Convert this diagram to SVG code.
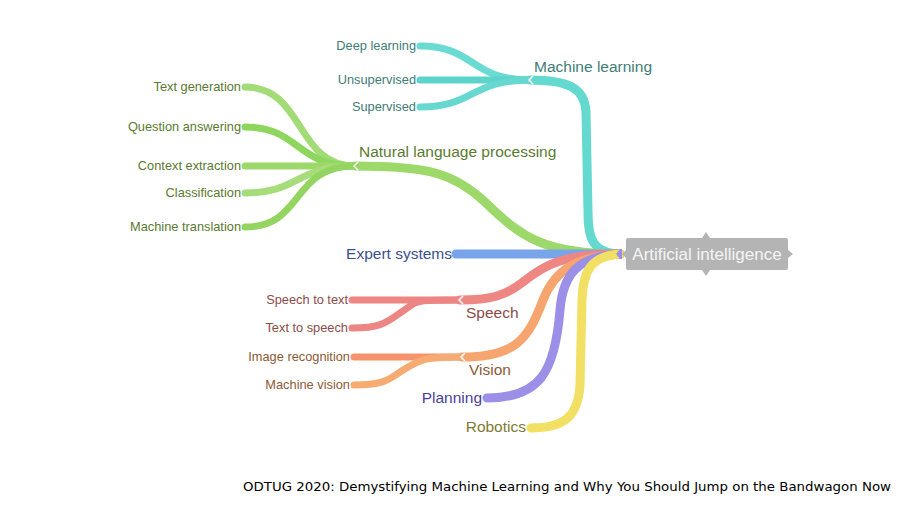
<svg xmlns="http://www.w3.org/2000/svg" width="901" height="505" viewBox="0 0 901 505">
<style>
.b{fill:none;stroke-linecap:round;stroke-linejoin:round}
.m{stroke-width:9}
.c{stroke-width:7}
.t{font-family:"Liberation Sans",Arial,sans-serif}
.lf{font-size:12.8px}
.mn{font-size:15.5px}
.r{text-anchor:end}
.notch{fill:none;stroke:#fff;stroke-width:1.5}
</style>
<rect width="901" height="505" fill="#fff"/>
<g id="connectors">
  <path class="b m" stroke="#64d9cf" d="M620,254 C592,253 588,238 588,212 L586,112 C585,88 568,80 530,80"/>
  <path class="b c" stroke="#6adbd3" d="M530,80 C470,80 475,46 420,46"/>
  <path class="b c" stroke="#5dd3cc" d="M530,80 L420,80"/>
  <path class="b c" stroke="#66d8d0" d="M530,80 C470,80 475,107 420,107"/>
  <path class="b m" stroke="#9dd96a" d="M620,254 C545,254 522,238 485,202 C455,174 430,166 355,166"/>
  <path class="b c" stroke="#a3db76" d="M355,166 C295,166 305,87 245,87"/>
  <path class="b c" stroke="#8fd65e" d="M355,166 C295,166 300,127 245,127"/>
  <path class="b c" stroke="#9cd86a" d="M355,166 L245,166"/>
  <path class="b c" stroke="#a6dc7a" d="M355,166 C295,166 300,193 245,193"/>
  <path class="b c" stroke="#94d562" d="M355,166 C290,166 305,227 245,227"/>
  <path class="b m" stroke="#78a4ea" d="M620,254 L456,254"/>
  <path class="b m" stroke="#ee8783" d="M620,254 C565,254 545,264 523,282 C505,296 490,300 460,300"/>
  <path class="b c" stroke="#ee8783" d="M460,300 L352,300"/>
  <path class="b c" stroke="#ec8583" d="M460,300 C410,300 420,300 400,313 C385,324 378,328 352,328"/>
  <path class="b m" stroke="#f6a56f" d="M620,254 C575,257 555,270 543,300 C528,340 515,357 462,357"/>
  <path class="b c" stroke="#f5936f" d="M462,357 L354,357"/>
  <path class="b c" stroke="#f6ab73" d="M462,357 C420,357 420,360 400,372 C388,381 380,385 354,385"/>
  <path class="b m" stroke="#9b8fe8" d="M620,254 C578,256 563,274 560,310 C555,372 540,398 487,398"/>
  <path class="b m" stroke="#f2e065" d="M620,254 C590,256 583,272 582,300 L580,385 C578,416 565,428 531,428"/>
  <path class="notch" d="M533,76 L529,80 L533,84"/>
  <path class="notch" d="M358,162 L354,166 L358,170"/>
  <path class="notch" d="M463,296 L459,300 L463,304"/>
  <path class="notch" d="M465,353 L461,357 L465,361"/>
</g>
<g id="root">
  <path fill="#b4b4b4" d="M628,238 L702,238 L706,232 L710,238 L786,238 Q788,238 788,240 L788,250 L793,254 L788,258 L788,268 Q788,270 786,270 L710,270 L706,276 L702,270 L628,270 Q626,270 626,268 L626,258 L622,254 L626,250 L626,240 Q626,238 628,238 Z"/>
  <path d="M620,249 L616,254 L620,259 L622,259 L622,249 Z" fill="#9b8fe8"/>
  <text class="t" x="707" y="260" font-size="17" fill="#f4f4f4" text-anchor="middle">Artificial intelligence</text>
</g>
<g id="n-ml"><text class="t mn" x="534" y="72" fill="#3f7d77">Machine learning</text></g>
<g id="n-deep"><text class="t lf r" x="416" y="50" fill="#3f7d77">Deep learning</text></g>
<g id="n-unsup"><text class="t lf r" x="416" y="84" fill="#3f7d77">Unsupervised</text></g>
<g id="n-sup"><text class="t lf r" x="416" y="111" fill="#3f7d77">Supervised</text></g>
<g id="n-nlp"><text class="t mn" x="359" y="157" fill="#5b7a31">Natural language processing</text></g>
<g id="n-tg"><text class="t lf r" x="241" y="91" fill="#5b7a31">Text generation</text></g>
<g id="n-qa"><text class="t lf r" x="241" y="131" fill="#5b7a31">Question answering</text></g>
<g id="n-ce"><text class="t lf r" x="241" y="170" fill="#5b7a31">Context extraction</text></g>
<g id="n-cl"><text class="t lf r" x="241" y="197" fill="#5b7a31">Classification</text></g>
<g id="n-mt"><text class="t lf r" x="241" y="231" fill="#5b7a31">Machine translation</text></g>
<g id="n-es"><text class="t mn r" x="452" y="259" fill="#3c4f8f">Expert systems</text></g>
<g id="n-sp"><text class="t mn" x="466" y="318" fill="#8c4b48">Speech</text></g>
<g id="n-stt"><text class="t lf r" x="348" y="304" fill="#8c4b48">Speech to text</text></g>
<g id="n-tts"><text class="t lf r" x="348" y="332" fill="#8c4b48">Text to speech</text></g>
<g id="n-vi"><text class="t mn" x="469" y="375" fill="#8c5a36">Vision</text></g>
<g id="n-ir"><text class="t lf r" x="350" y="361" fill="#8c5a36">Image recognition</text></g>
<g id="n-mv"><text class="t lf r" x="350" y="389" fill="#8c5a36">Machine vision</text></g>
<g id="n-pl"><text class="t mn r" x="482" y="403" fill="#4b40a0">Planning</text></g>
<g id="n-ro"><text class="t mn r" x="526" y="432" fill="#807a34">Robotics</text></g>
<text x="243" y="491" font-family="'DejaVu Sans',Verdana,sans-serif" font-size="12.5" textLength="648" lengthAdjust="spacingAndGlyphs" fill="#000">ODTUG 2020: Demystifying Machine Learning and Why You Should Jump on the Bandwagon Now</text>
</svg>
